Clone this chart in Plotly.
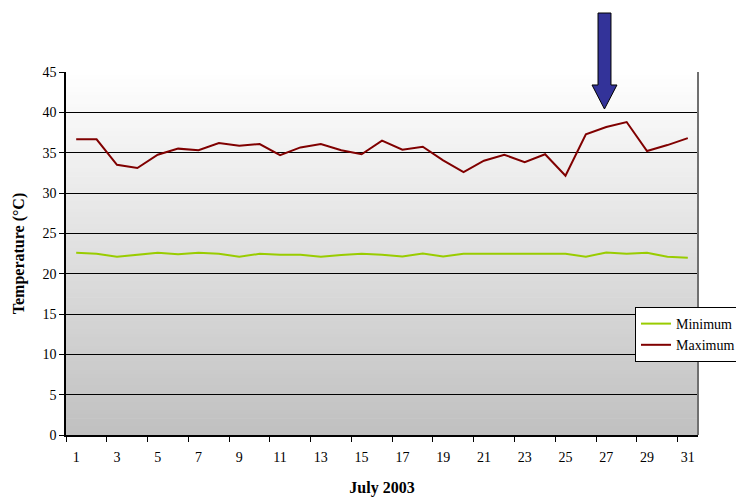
import plotly.graph_objects as go

# Daily temperatures, July 2003
days = [str(d) for d in range(1, 32)]
minimum = [22.58, 22.46, 22.09, 22.3, 22.58, 22.42, 22.58, 22.46, 22.09, 22.46,
           22.34, 22.34, 22.09, 22.3, 22.46, 22.35, 22.13, 22.5, 22.13, 22.46,
           22.46, 22.46, 22.46, 22.46, 22.46, 22.09, 22.63, 22.46, 22.58, 22.09,
           21.96]
maximum = [36.65, 36.65, 33.5, 33.1, 34.74, 35.5, 35.3, 36.2, 35.86, 36.07,
           34.7, 35.65, 36.07, 35.3, 34.8, 36.5, 35.36, 35.74, 34.04, 32.6,
           34.0, 34.74, 33.83, 34.8, 32.14, 37.27, 38.18, 38.8, 35.2, 35.94,
           36.8]

SERIF = "Liberation Serif"

fig = go.Figure()
fig.add_trace(go.Scatter(x=days, y=minimum, mode="lines", name="Minimum",
                         line=dict(color="#99cc00", width=2)))
fig.add_trace(go.Scatter(x=days, y=maximum, mode="lines", name="Maximum",
                         line=dict(color="#800000", width=2)))

# vertical gradient in the plotting area: white at top to silver at bottom
shapes = []
n = 90
for i in range(n):
    f = (i + 0.5) / n
    v = round(255 - (255 - 192) * f)
    shapes.append(dict(type="rect", xref="paper", yref="paper",
                       x0=0, x1=1, y0=1 - (i + 1) / n, y1=1 - i / n + 0.002,
                       fillcolor=f"rgb({v},{v},{v})", line=dict(width=0),
                       layer="below"))
# right border of the plotting area
shapes.append(dict(type="line", xref="paper", yref="paper", x0=1, x1=1, y0=0, y1=1,
                   line=dict(color="#707070", width=2)))
# pointer arrow
shapes.append(dict(type="path", xref="paper", yref="paper",
                   path="M 0.8418 1.1625 L 0.8623 1.1625 L 0.8623 0.9642 L 0.8718 0.9642 "
                        "L 0.8520 0.898 L 0.8323 0.9642 L 0.8418 0.9642 Z",
                   fillcolor="#333399", line=dict(color="#000000", width=1)))

fig.update_layout(
    width=736, height=497,
    margin=dict(l=66, r=38, t=72, b=62, autoexpand=False),
    paper_bgcolor="white", plot_bgcolor="rgba(0,0,0,0)",
    font=dict(family=SERIF, size=14, color="black"),
    shapes=shapes,
    showlegend=True,
    legend=dict(x=0.9003, y=0.3526, xanchor="left", yanchor="top",
                bgcolor="white", bordercolor="black", borderwidth=1,
                font=dict(family=SERIF, size=14, color="black"), tracegroupgap=0,
                itemwidth=30),
)
fig.update_xaxes(type="category", range=[-0.5, 30.5], tickson="boundaries", dtick=2,
                 ticks="outside", ticklen=5, tickcolor="black",
                 ticklabelstandoff=8,
                 showgrid=False, showline=True, linecolor="black", linewidth=1.5,
                 tickfont=dict(family=SERIF, size=14),
                 title=dict(text="<b>July 2003</b>", font=dict(family=SERIF, size=16),
                            standoff=20))
fig.update_yaxes(range=[0, 45], dtick=5, ticks="outside", ticklen=5, tickcolor="black",
                 showgrid=True, gridcolor="black", gridwidth=1, zeroline=False,
                 showline=True, linecolor="black", linewidth=1.5,
                 tickfont=dict(family=SERIF, size=14),
                 title=dict(text="<b>Temperature (°C)</b>", font=dict(family=SERIF, size=16),
                            standoff=14))

fig.write_html("out.html")
